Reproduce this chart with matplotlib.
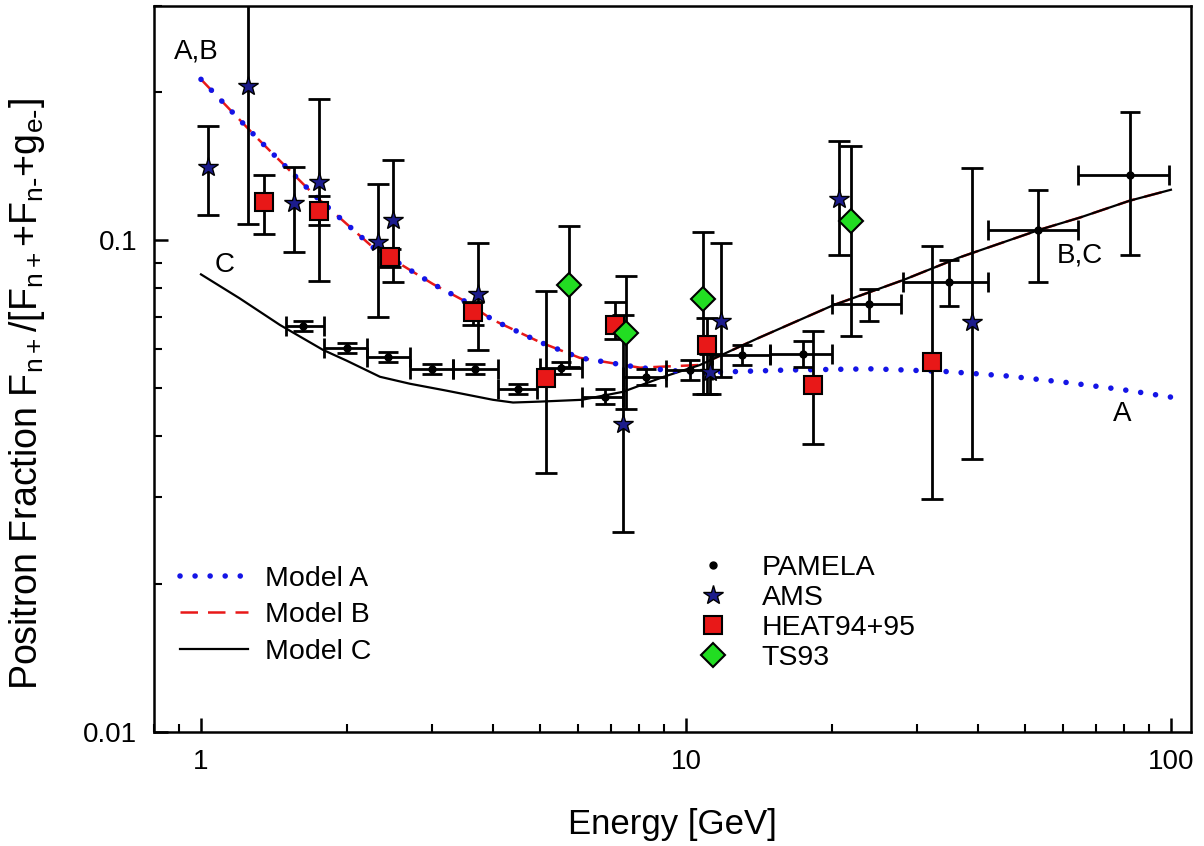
import matplotlib.pyplot as plt
from matplotlib.lines import Line2D

plt.rcParams['font.family'] = ['Liberation Sans', 'DejaVu Sans']
plt.rcParams['mathtext.default'] = 'regular'

# curvas de los modelos (energia en GeV, fraccion de positrones)
model_a_e = [1.0, 1.305, 1.718, 2.263, 3.01, 3.47, 4.0, 5.0, 6.04, 8.04, 10.5, 16.2, 24.3, 34.5, 45.9, 61.0, 79.6, 100]
model_a_f = [0.2127, 0.1616, 0.1233, 0.0968, 0.0815, 0.0756, 0.0689, 0.0621, 0.0577, 0.0551, 0.0538, 0.0545,
             0.0548, 0.0541, 0.0530, 0.0514, 0.0497, 0.0480]

model_b_e = [1.0, 1.305, 1.718, 2.263, 3.01, 3.47, 4.0, 5.0, 6.04, 8.04, 10.69, 14.0, 20.1, 28.0, 36.7, 53.7,
             64.9, 82.3, 100]
model_b_f = [0.2127, 0.1616, 0.1233, 0.0968, 0.0815, 0.0756, 0.0689, 0.0621, 0.0577, 0.0551, 0.0558, 0.0631,
             0.0738, 0.0830, 0.0924, 0.1052, 0.1113, 0.1205, 0.1268]

model_c_e = [1.0, 1.2, 1.455, 1.784, 2.0, 2.339, 2.697, 3.2, 4.0, 4.4, 5.0, 6.1, 7.41, 9.0, 10.69, 14.0, 20.1,
             28.0, 36.7, 53.7, 64.9, 82.3, 100]
model_c_f = [0.0853, 0.0763, 0.0673, 0.0599, 0.0569, 0.0528, 0.0511, 0.0495, 0.0474, 0.0468, 0.0470, 0.0474,
             0.0492, 0.0528, 0.0558, 0.0631, 0.0738, 0.0830, 0.0924, 0.1052, 0.1113, 0.1205, 0.1268]

# PAMELA
pam_e = [1.62, 2.00, 2.43, 2.99, 3.67, 4.51, 5.52, 6.81, 8.27, 10.2, 13.05, 17.4, 23.9, 34.9, 53.2, 82.3]
pam_e_lo = [1.50, 1.79, 2.20, 2.70, 3.31, 4.10, 5.00, 6.10, 7.40, 9.10, 11.3, 14.9, 20.0, 28.0, 41.9, 64.3]
pam_e_hi = [1.79, 2.20, 2.70, 3.31, 4.10, 4.93, 6.10, 7.40, 9.10, 11.3, 14.9, 20.0, 27.8, 41.9, 64.3, 99.0]
pam_f = [0.0670, 0.0604, 0.0580, 0.0548, 0.0548, 0.0499, 0.0551, 0.0481, 0.0528, 0.0546, 0.0585, 0.0587,
         0.0742, 0.0822, 0.1048, 0.136]
pam_f_lo = [0.0654, 0.0590, 0.0566, 0.0535, 0.0535, 0.0487, 0.0536, 0.0464, 0.0509, 0.0521, 0.0559, 0.0553,
            0.0686, 0.0735, 0.0822, 0.0932]
pam_f_hi = [0.0686, 0.0618, 0.0594, 0.0561, 0.0561, 0.0511, 0.0566, 0.0499, 0.0548, 0.0571, 0.0613, 0.0623,
            0.0796, 0.0911, 0.1268, 0.1824]

# AMS
ams_e = [1.034, 1.25, 1.555, 1.751, 2.317, 2.489, 3.724, 7.41, 11.2, 11.8, 20.7, 38.9]
ams_f = [0.1412, 0.206, 0.1194, 0.1316, 0.0995, 0.1103, 0.0777, 0.0424, 0.054, 0.0686, 0.1216, 0.0682]
ams_f_lo = [0.1129, 0.1082, 0.0946, 0.0826, 0.0698, 0.0822, 0.0599, 0.0255, 0.0486, 0.0528, 0.0932, 0.0359]
ams_f_hi = [0.1709, 0.35, 0.1412, 0.1938, 0.1304, 0.1459, 0.0986, 0.0705, 0.0588, 0.099, 0.1594, 0.1405]

# HEAT94+95
heat_e = [1.349, 1.751, 2.453, 3.64, 5.14, 7.14, 11.05, 18.3, 32.2]
heat_f = [0.120, 0.115, 0.0924, 0.0715, 0.0526, 0.0673, 0.0613, 0.0509, 0.0567]
heat_f_lo = [0.1033, 0.1077, 0.0882, 0.0673, 0.0336, 0.0630, 0.0486, 0.0386, 0.0298]
heat_f_hi = [0.136, 0.1233, 0.0959, 0.0749, 0.0788, 0.0749, 0.0695, 0.0654, 0.0973]

# TS93
ts_e = [5.74, 7.52, 10.84, 21.9]
ts_f = [0.0811, 0.0648, 0.0760, 0.1093]
ts_f_lo = [0.0553, 0.0455, 0.0488, 0.0639]
ts_f_hi = [0.1072, 0.0846, 0.1038, 0.1557]

BLUE = '#1414e6'
RED = '#e81818'
NAVY = '#1c1c8c'
GREEN = '#22dd22'
DOTTED = (0, (0.01, 2.7))


def asym(center, lo, hi):
    """ pasa limites inferior/superior a errores asimetricos """
    return [[c - l for c, l in zip(center, lo)], [h - c for c, h in zip(center, hi)]]


fig = plt.figure(figsize=(12.04, 8.46), dpi=100)
ax = fig.add_axes([0.1279, 0.1348, 0.8613, 0.8582])

# modelos: B debajo, C encima de B, A encima de todo
ax.plot(model_b_e, model_b_f, color=RED, lw=1.8, dashes=(7, 4), zorder=2)
ax.plot(model_c_e, model_c_f, color='black', lw=1.6, zorder=2.1)
ax.plot(model_a_e, model_a_f, color=BLUE, lw=4, linestyle=DOTTED, dash_capstyle='round', zorder=2.2)

# barras de error
eb = dict(fmt='none', ecolor='black', elinewidth=2, capthick=2, zorder=3)
ax.errorbar(pam_e, pam_f, yerr=asym(pam_f, pam_f_lo, pam_f_hi), xerr=asym(pam_e, pam_e_lo, pam_e_hi),
            capsize=7, **eb)
ax.errorbar(ams_e, ams_f, yerr=asym(ams_f, ams_f_lo, ams_f_hi), capsize=8, **eb)
ax.errorbar(heat_e, heat_f, yerr=asym(heat_f, heat_f_lo, heat_f_hi), capsize=8, **eb)
ax.errorbar(ts_e, ts_f, yerr=asym(ts_f, ts_f_lo, ts_f_hi), capsize=8, **eb)

# marcadores
ax.plot(pam_e, pam_f, 'o', color='black', ms=5, zorder=4)
ax.plot(ams_e, ams_f, '*', mfc=NAVY, mec='black', mew=1, ms=15, zorder=4)
ax.plot(heat_e, heat_f, 's', mfc=RED, mec='black', mew=1.5, ms=13, zorder=4)
ax.plot(ts_e, ts_f, 'D', mfc=GREEN, mec='black', mew=1.5, ms=12, zorder=4)

# etiquetas de curvas
ax.text(0.976, 0.2426, 'A,B', ha='center', va='center', fontsize=20)
ax.text(1.12, 0.089, 'C', ha='center', va='center', fontsize=20)
ax.text(64.9, 0.0933, 'B,C', ha='center', va='center', fontsize=20)
ax.text(79.2, 0.0444, 'A', ha='center', va='center', fontsize=20)

ax.set_xscale('log')
ax.set_yscale('log')
ax.set_xlim(0.8, 110)
ax.set_ylim(0.01, 0.3)
ax.set_xticks([1, 10, 100])
ax.set_xticklabels(['1', '10', '100'])
ax.set_yticks([0.01, 0.1])
ax.set_yticklabels(['0.01', '0.1'])
ax.tick_params(which='major', direction='in', length=10, width=1.8, labelsize=20, pad=12)
ax.tick_params(which='minor', direction='in', length=6, width=1.5, labelleft=False, labelbottom=False)
for s in ax.spines.values():
    s.set_linewidth(1.8)

ax.set_xlabel('Energy [GeV]', fontsize=25)
ax.set_ylabel(r'Positron Fraction F$_{n+}$/[F$_{n+}$+F$_{n\text{-}}$+g$_{e\text{-}}$]', fontsize=27)
ax.xaxis.set_label_coords(0.5, -0.105)
ax.yaxis.set_label_coords(-0.103, 0.466)

# leyendas
model_handles = [
    Line2D([], [], color=BLUE, lw=4, linestyle=DOTTED, dash_capstyle='round', label='Model A'),
    Line2D([], [], color=RED, lw=1.8, dashes=(7, 4), label='Model B'),
    Line2D([], [], color='black', lw=1.6, label='Model C'),
]
leg1 = ax.legend(handles=model_handles, loc='upper left', bbox_to_anchor=(0.025, 0.229), frameon=False,
                 fontsize=20.5, handlelength=2.4, handletextpad=0.6, labelspacing=0.37, borderpad=0,
                 borderaxespad=0)
ax.add_artist(leg1)

data_handles = [
    Line2D([], [], ls='none', marker='o', color='black', ms=5, label='PAMELA'),
    Line2D([], [], ls='none', marker='*', mfc=NAVY, mec='black', mew=1, ms=15, label='AMS'),
    Line2D([], [], ls='none', marker='s', mfc=RED, mec='black', mew=1.5, ms=13, label='HEAT94+95'),
    Line2D([], [], ls='none', marker='D', mfc=GREEN, mec='black', mew=1.5, ms=12, label='TS93'),
]
ax.legend(handles=data_handles, loc='upper left', bbox_to_anchor=(0.5256, 0.244), frameon=False,
          fontsize=20.5, handlelength=0.95, handletextpad=1.25, labelspacing=0.14, borderpad=0,
          borderaxespad=0)

fig.savefig('out.png', dpi=100)
plt.close(fig)
